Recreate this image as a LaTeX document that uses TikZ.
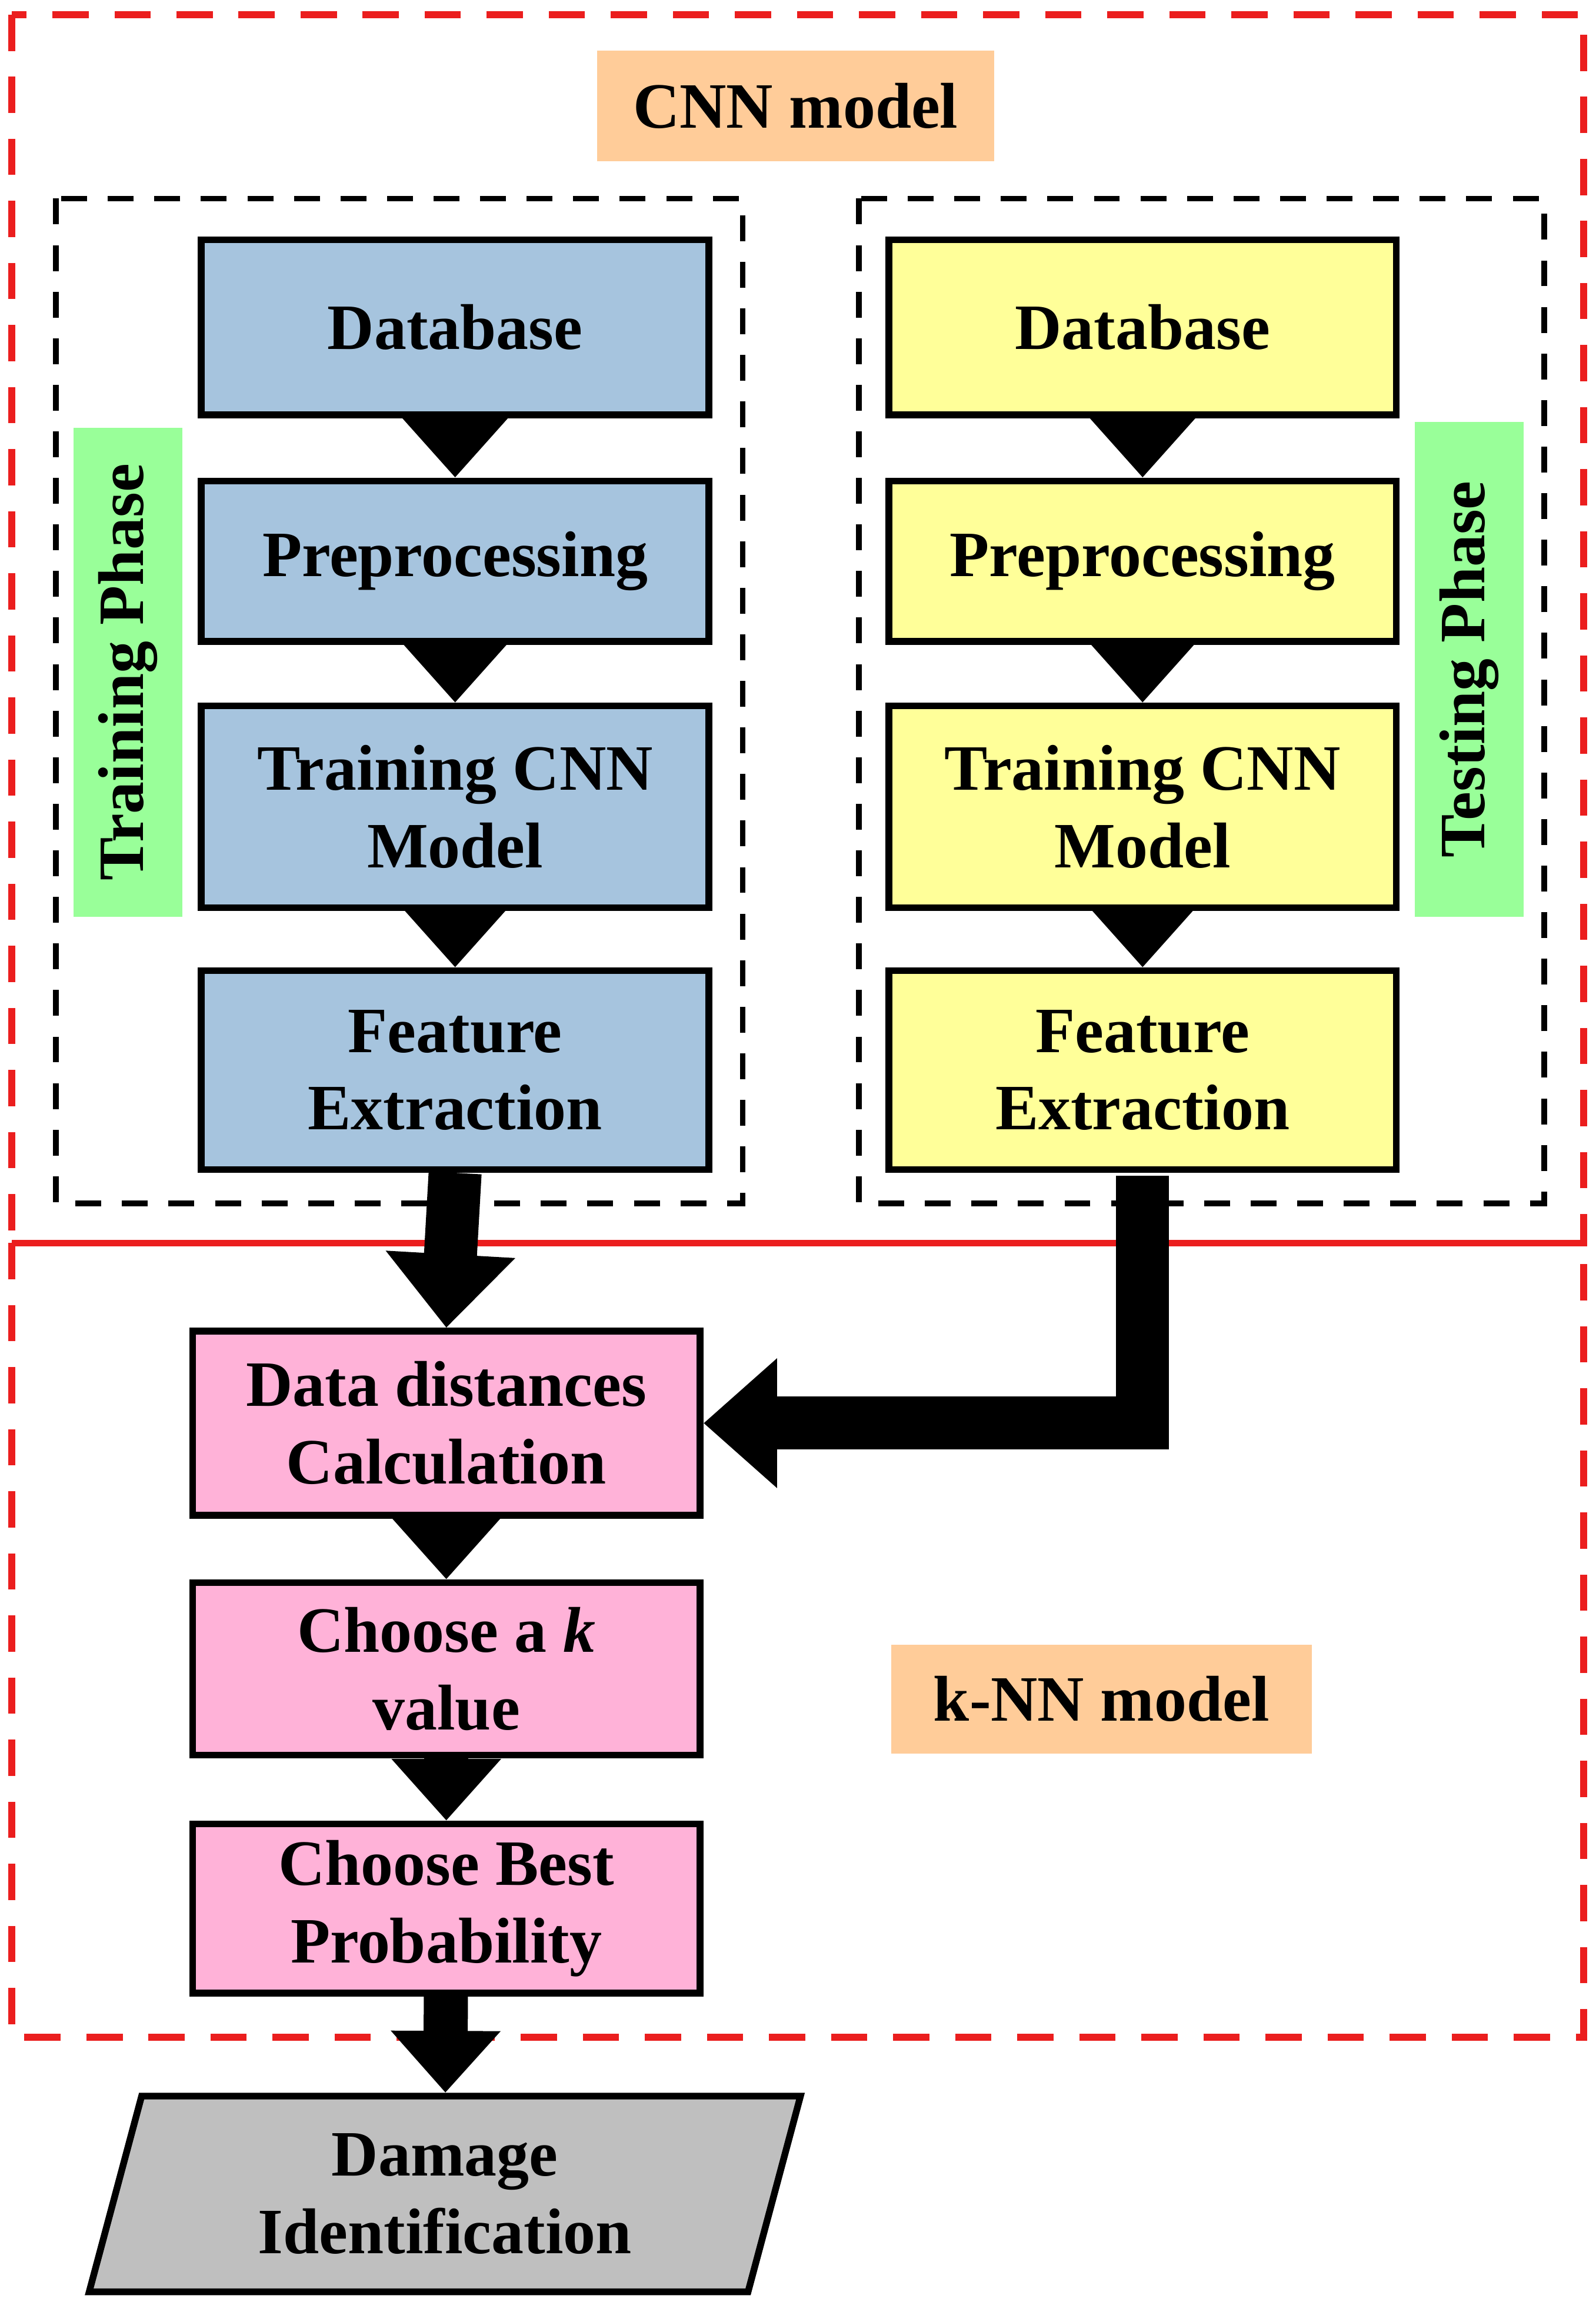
\documentclass[tikz,border=0pt]{standalone}
\usepackage{fontspec}
\setmainfont{Liberation Serif}
\usetikzlibrary{arrows.meta,shapes.geometric}
\definecolor{blueBox}{RGB}{166,196,222}
\definecolor{yellowBox}{RGB}{255,255,153}
\definecolor{pinkBox}{RGB}{255,178,216}
\definecolor{orangeLbl}{RGB}{255,204,153}
\definecolor{greenLbl}{RGB}{153,255,153}
\definecolor{grayBox}{RGB}{191,191,191}
\definecolor{redDash}{RGB}{235,30,30}
\tikzset{
  box/.style={draw,line width=1.3pt,minimum width=3.45cm,inner sep=0pt,align=center,
    font=\fontsize{12.5}{15}\selectfont\bfseries},
  lbl/.style={inner sep=0pt,align=center,font=\fontsize{12.5}{15}\selectfont\bfseries},
  blk/.style={line width=0.3cm,-{Triangle[length=0.42cm,width=0.72cm]}},
  bigblk/.style={line width=0.36cm,-{Triangle[length=0.5cm,width=0.85cm]}},
  reddash/.style={draw=redDash,line width=1.3pt,dash pattern=on 7pt off 5pt},
  blkdash/.style={draw,line width=1.1pt,dash pattern=on 5pt off 4pt}
}
\begin{document}
\begin{tikzpicture}[x=0.01cm,y=-0.01cm]
\useasboundingbox (0,0) rectangle (1085,1567);
% frames
\draw[reddash] (8,10) rectangle (1077,845);
\draw[reddash] (8,845) rectangle (1077,1385);
\draw[blkdash] (38,135) rectangle (505,818);
\draw[blkdash] (584,135) rectangle (1050,818);
% labels
\node[lbl,fill=orangeLbl,minimum width=2.7cm,minimum height=0.75cm] (cnn) at (541,72) {CNN model};
\node[lbl,fill=orangeLbl,minimum width=2.86cm,minimum height=0.74cm] (knn) at (749,1155) {k-NN model};
\node[lbl,fill=greenLbl,rotate=90,minimum width=3.32cm,minimum height=0.74cm] (train) at (87,457) {Training Phase};
\node[lbl,fill=greenLbl,rotate=90,minimum width=3.36cm,minimum height=0.74cm] (test) at (999,455) {Testing Phase};
% training column
\node[box,fill=blueBox,minimum height=1.19cm] (db1) at (309.5,222.5) {Database};
\node[box,fill=blueBox,minimum height=1.09cm] (pp1) at (309.5,381.5) {Preprocessing};
\node[box,fill=blueBox,minimum height=1.37cm] (tr1) at (309.5,548.5) {Training CNN\\Model};
\node[box,fill=blueBox,minimum height=1.35cm] (fe1) at (309.5,727.5) {Feature\\Extraction};
% testing column
\node[box,fill=yellowBox,minimum height=1.19cm] (db2) at (777,222.5) {Database};
\node[box,fill=yellowBox,minimum height=1.09cm] (pp2) at (777,381.5) {Preprocessing};
\node[box,fill=yellowBox,minimum height=1.37cm] (tr2) at (777,548.5) {Training CNN\\Model};
\node[box,fill=yellowBox,minimum height=1.35cm] (fe2) at (777,727.5) {Feature\\Extraction};
% k-NN column
\node[box,fill=pinkBox,minimum height=1.25cm] (dd) at (303.5,967.5) {Data distances\\Calculation};
\node[box,fill=pinkBox,minimum height=1.17cm] (ck) at (303.5,1134.5) {Choose a \textit{k}\\value};
\node[box,fill=pinkBox,minimum height=1.15cm] (cb) at (303.5,1297.5) {Choose Best\\Probability};
\node[box,trapezium,trapezium left angle=75,trapezium right angle=105,fill=grayBox,
  minimum width=4.45cm,minimum height=1.33cm] (dmg) at (302.5,1491.5) {Damage\\Identification};
% arrows
\draw[blk] (db1) -- (pp1);
\draw[blk] (pp1) -- (tr1);
\draw[blk] (tr1) -- (fe1);
\draw[blk] (db2) -- (pp2);
\draw[blk] (pp2) -- (tr2);
\draw[blk] (tr2) -- (fe2);
\draw[bigblk] (fe1.south) -- (dd.north);
\draw[bigblk,line join=miter] ([yshift=-0.02cm]fe2.south) |- (dd.east);
\draw[blk] (dd) -- (ck);
\draw[blk] (ck) -- (cb);
\draw[blk] (cb) -- (dmg);
\end{tikzpicture}
\end{document}
